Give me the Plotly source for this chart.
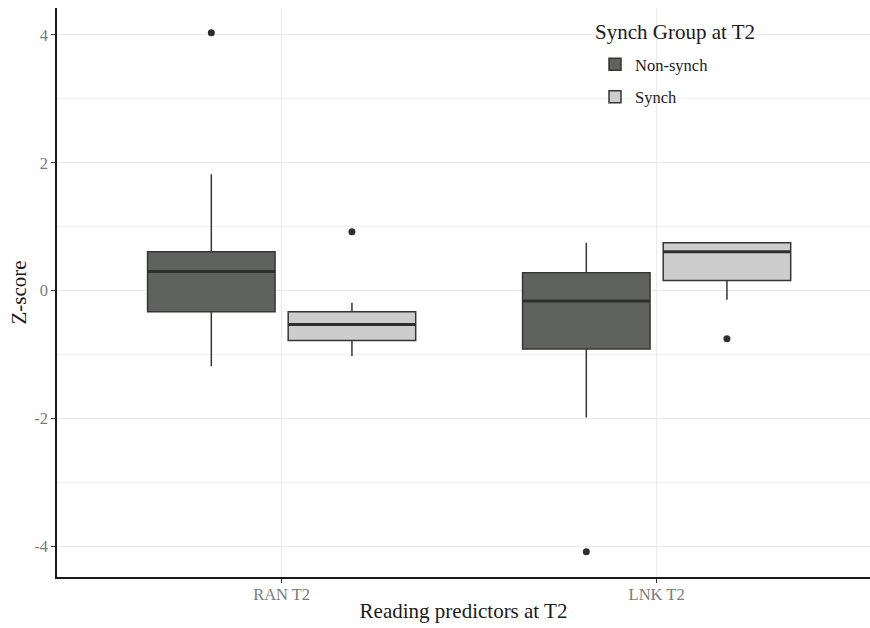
import plotly.graph_objects as go

categories = ["RAN T2", "LNK T2"]
groups = ["Non-synch", "Synch"]
cat_pos = [1, 2]

# precomputed box statistics per group, per category
q1 = {"Non-synch": [-0.33, -0.91], "Synch": [-0.78, 0.16]}
median = {"Non-synch": [0.30, -0.16], "Synch": [-0.53, 0.61]}
q3 = {"Non-synch": [0.61, 0.28], "Synch": [-0.33, 0.75]}
lowerfence = {"Non-synch": [-1.18, -1.98], "Synch": [-1.02, -0.14]}
upperfence = {"Non-synch": [1.82, 0.75], "Synch": [-0.19, 0.75]}
outlier_cat = {"Non-synch": [1, 2], "Synch": [1, 2]}
outlier_y = {"Non-synch": [4.03, -4.08], "Synch": [0.92, -0.75]}

y_ticks = [-4, -2, 0, 2, 4]
y_ticktext = ["-4", "-2", "0", "2", "4"]
legend_title = "Synch Group at T2"

fills = {"Non-synch": "#606260", "Synch": "#cdcdcd"}
offsets = {"Non-synch": -0.1875, "Synch": 0.1875}
box_w = 0.34
line_col = "#363636"

fig = go.Figure()
for g in groups:
    xs = [p + offsets[g] for p in cat_pos]
    fig.add_trace(go.Box(
        name=g, x=xs, q1=q1[g], median=median[g], q3=q3[g],
        lowerfence=lowerfence[g], upperfence=upperfence[g],
        width=box_w, whiskerwidth=0, boxpoints=False,
        fillcolor=fills[g], line=dict(color=line_col, width=1.5),
        legendgroup=g, hoverinfo="skip",
    ))
for g in groups:
    # thicker median lines
    mx, my = [], []
    for p, m in zip(cat_pos, median[g]):
        c = p + offsets[g]
        mx += [c - box_w / 2, c + box_w / 2, None]
        my += [m, m, None]
    fig.add_trace(go.Scatter(x=mx, y=my, mode="lines", showlegend=False,
                             line=dict(color="#2e2e2e", width=3), hoverinfo="skip"))
    fig.add_trace(go.Scatter(
        x=[c + offsets[g] for c in outlier_cat[g]], y=outlier_y[g],
        mode="markers", showlegend=False,
        marker=dict(color="#2e2e2e", size=7), hoverinfo="skip"))

# white legend panel
fig.add_shape(type="rect", xref="paper", yref="paper",
              x0=(583 - 57) / 813, x1=(765 - 57) / 813,
              y0=1 - (118 - 8) / 569, y1=1 - (12 - 8) / 569,
              fillcolor="white", line=dict(width=0), layer="below")
fig.add_annotation(text=legend_title, xref="paper", yref="paper",
                   x=(593 - 57) / 813, y=1 - (32 - 8) / 569,
                   xanchor="left", yanchor="middle", showarrow=False,
                   font=dict(size=21, color="#1a1a1a"))

fig.update_layout(
    width=870, height=628,
    margin=dict(l=57, r=0, t=8, b=51),
    plot_bgcolor="white", paper_bgcolor="white",
    font=dict(family="Liberation Serif", color="#1a1a1a"),
    showlegend=True,
    legend=dict(
        font=dict(size=16.5, color="#1a1a1a"),
        x=(595 - 57) / 813, y=1 - (47 - 8) / 569, xanchor="left", yanchor="top",
        bgcolor="rgba(0,0,0,0)", tracegroupgap=8, itemwidth=30,
    ),
    xaxis=dict(
        range=[0.401, 2.569], tickvals=cat_pos, ticktext=categories,
        showgrid=True, gridcolor="#ebebeb", gridwidth=1, zeroline=False,
        showline=True, linecolor="#1a1a1a", linewidth=1.5,
        ticks="outside", ticklen=4, tickcolor="#333333",
        tickfont=dict(size=16.5, color="#7a7a7a"), ticklabelstandoff=-3,
        title=dict(text="Reading predictors at T2", font=dict(size=21, color="#1a1a1a"), standoff=1),
    ),
    yaxis=dict(
        range=[-4.474, 4.418], tickvals=y_ticks, ticktext=y_ticktext,
        showgrid=True, gridcolor="#ebebeb", gridwidth=1, zeroline=False,
        minor=dict(dtick=1, tick0=1, showgrid=True, gridcolor="#f3f3f3", gridwidth=1),
        showline=True, linecolor="#1a1a1a", linewidth=1.5,
        ticks="outside", ticklen=4, tickcolor="#333333",
        tickfont=dict(size=16.5, color="#7a7a7a"),
        title=dict(text="Z-score", font=dict(size=21, color="#1a1a1a"), standoff=2),
    ),
)

fig.write_html("out.html", config={"displayModeBar": False},
               post_script="document.body.style.margin='0px';")
